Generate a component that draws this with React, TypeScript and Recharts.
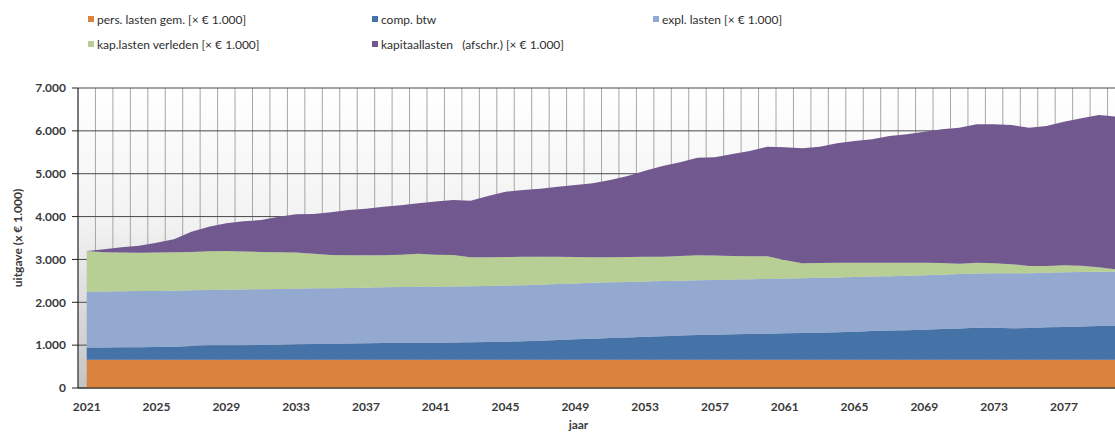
import React from 'react';
import { AreaChart, Area, XAxis, YAxis, CartesianGrid } from 'recharts';

const years = [
  2021, 2022, 2023, 2024, 2025, 2026, 2027, 2028, 2029, 2030,
  2031, 2032, 2033, 2034, 2035, 2036, 2037, 2038, 2039, 2040,
  2041, 2042, 2043, 2044, 2045, 2046, 2047, 2048, 2049, 2050,
  2051, 2052, 2053, 2054, 2055, 2056, 2057, 2058, 2059, 2060,
  2061, 2062, 2063, 2064, 2065, 2066, 2067, 2068, 2069, 2070,
  2071, 2072, 2073, 2074, 2075, 2076, 2077, 2078, 2079, 2080,
];

const persLasten = [
  660, 660, 660, 660, 660, 660, 660, 660, 660, 660,
  660, 660, 660, 660, 660, 660, 660, 660, 660, 660,
  660, 660, 660, 660, 660, 660, 660, 660, 660, 660,
  660, 660, 660, 660, 660, 660, 660, 660, 660, 660,
  660, 660, 660, 660, 660, 660, 660, 660, 660, 660,
  660, 660, 660, 660, 660, 660, 660, 660, 660, 660,
];

const compBtw = [
  285, 285, 288, 290, 295, 305, 318, 335, 338, 340,
  342, 350, 360, 365, 375, 380, 385, 388, 392, 395,
  395, 400, 405, 412, 420, 430, 445, 460, 475, 490,
  505, 520, 535, 550, 565, 575, 585, 592, 600, 608,
  615, 622, 630, 640, 655, 670, 680, 690, 700, 715,
  730, 748, 745, 735, 740, 755, 765, 775, 785, 795,
];

const explLasten = [
  1303, 1307, 1310, 1312, 1311, 1307, 1300, 1292, 1294, 1298,
  1302, 1300, 1296, 1300, 1295, 1296, 1297, 1300, 1303, 1305,
  1307, 1308, 1310, 1310, 1310, 1310, 1307, 1305, 1305, 1305,
  1300, 1295, 1290, 1285, 1280, 1280, 1277, 1278, 1278, 1277,
  1278, 1280, 1280, 1280, 1275, 1270, 1270, 1270, 1272, 1270,
  1268, 1264, 1275, 1281, 1280, 1275, 1273, 1270, 1265, 1260,
];

const kapLastenVerleden = [
  949, 914, 902, 896, 894, 894, 897, 903, 905, 887,
  871, 860, 844, 805, 773, 764, 758, 752, 755, 774,
  748, 735, 674, 667, 665, 660, 648, 639, 615, 594,
  584, 580, 575, 569, 575, 581, 568, 550, 534, 527,
  434, 347, 345, 344, 334, 324, 314, 304, 292, 271,
  242, 252, 230, 214, 167, 157, 164, 150, 106, 54,
];

const kapitaalLasten = [
  0, 70, 122, 163, 231, 303, 473, 574, 645, 704,
  745, 828, 892, 930, 996, 1053, 1085, 1131, 1152, 1175,
  1240, 1284, 1322, 1431, 1526, 1560, 1591, 1634, 1682, 1727,
  1804, 1892, 2011, 2116, 2186, 2279, 2292, 2380, 2458, 2559,
  2629, 2683, 2716, 2785, 2839, 2878, 2956, 2995, 3057, 3120,
  3174, 3228, 3242, 3247, 3227, 3266, 3352, 3437, 3554, 3562,
];

const yearTicks = [2021, 2025, 2029, 2033, 2037, 2041, 2045, 2049, 2053, 2057, 2061, 2065, 2069, 2073, 2077];
const valueTicks = [0, 1000, 2000, 3000, 4000, 5000, 6000, 7000];

const series = [
  { key: 'pers', name: 'pers. lasten gem. [× € 1.000]', color: '#D9833D' },
  { key: 'btw', name: 'comp. btw', color: '#4572A7' },
  { key: 'expl', name: 'expl. lasten [× € 1.000]', color: '#93A9D0' },
  { key: 'verleden', name: 'kap.lasten verleden [× € 1.000]', color: '#B7CE95' },
  { key: 'kapitaal', name: 'kapitaallasten   (afschr.) [× € 1.000]', color: '#71588F' },
];

const data = years.map((year, i) => ({
  year,
  pers: persLasten[i],
  btw: compBtw[i],
  expl: explLasten[i],
  verleden: kapLastenVerleden[i],
  kapitaal: kapitaalLasten[i],
}));

const boundaryTicks = years.map((y) => y + 0.5);

const fmt = (v: number) => String(v).replace(/\B(?=(\d{3})+(?!\d))/g, '.');

const FONT = 'Lato, "Open Sans", sans-serif';
const TEXT = '#3a3a3a';

const legendCols = [88, 372, 653];

export default function App() {
  return (
    <div
      style={{
        position: 'fixed',
        left: 0,
        top: 0,
        width: 1115,
        height: 434,
        overflow: 'hidden',
        background: '#ffffff',
        fontFamily: FONT,
      }}
    >
      {series.map((s, i) => {
        const col = i < 3 ? i : i - 3;
        const row = i < 3 ? 0 : 1;
        return (
          <div
            key={s.key}
            style={{
              position: 'absolute',
              left: legendCols[col],
              top: 11 + row * 25,
              height: 16,
              display: 'flex',
              alignItems: 'center',
              fontSize: 12,
              color: '#2e2e2e',
              whiteSpace: 'pre',
            }}
          >
            <span style={{ display: 'inline-block', width: 6, height: 6, background: s.color, marginRight: 3 }} />
            <span>{s.name}</span>
          </div>
        );
      })}
      <div style={{ position: 'absolute', left: 0, top: 0 }}>
        <AreaChart width={1135} height={434} data={data} margin={{ top: 88, right: 10, bottom: 0, left: 0 }}>
          <defs>
            <linearGradient id="plotBg" x1="0" y1="0" x2="0" y2="1">
              <stop offset="0%" stopColor="#ffffff" />
              <stop offset="45%" stopColor="#f2f2f2" />
              <stop offset="100%" stopColor="#c4c4c4" />
            </linearGradient>
          </defs>
          <XAxis
            xAxisId="grid"
            type="number"
            dataKey="year"
            domain={[2020.5, 2080.5]}
            ticks={boundaryTicks}
            interval={0}
            height={0}
            axisLine={false}
            tickLine={{ stroke: '#222' }}
            tickSize={5}
            tick={() => <g />}
          />
          <XAxis
            type="number"
            dataKey="year"
            domain={[2020.5, 2080.5]}
            ticks={yearTicks}
            interval={0}
            height={46}
            axisLine={{ stroke: '#222' }}
            tickLine={false}
            tickSize={6}
            tickMargin={8}
            tick={{ fill: TEXT, fontSize: 12, fontWeight: 700, fontFamily: FONT }}
            label={{ value: 'jaar', position: 'insideBottom', offset: 5, dx: -23, fill: TEXT, fontSize: 12, fontWeight: 700, fontFamily: FONT }}
          />
          <YAxis
            type="number"
            domain={[0, 7000]}
            ticks={valueTicks}
            interval={0}
            width={78}
            axisLine={{ stroke: '#222' }}
            tickLine={{ stroke: '#222' }}
            tickSize={6}
            tickMargin={6}
            tickFormatter={fmt}
            tick={{ fill: TEXT, fontSize: 12, fontWeight: 700, fontFamily: FONT }}
            label={{
              value: 'uitgave (x € 1.000)',
              angle: -90,
              position: 'insideLeft',
              offset: 18,
              fill: TEXT,
              fontSize: 12,
              fontWeight: 700,
              fontFamily: FONT,
              style: { textAnchor: 'middle' },
            }}
          />
          <CartesianGrid xAxisId="grid" horizontal={false} vertical stroke="#a6a6a6" fill="url(#plotBg)" fillOpacity={1} />
          <CartesianGrid horizontal vertical={false} stroke="#4a4a4a" />
          {series.map((s) => (
            <Area
              key={s.key}
              type="linear"
              dataKey={s.key}
              name={s.name}
              stackId="1"
              stroke="none"
              fill={s.color}
              fillOpacity={1}
              isAnimationActive={false}
              dot={false}
              activeDot={false}
            />
          ))}
        </AreaChart>
      </div>
    </div>
  );
}
